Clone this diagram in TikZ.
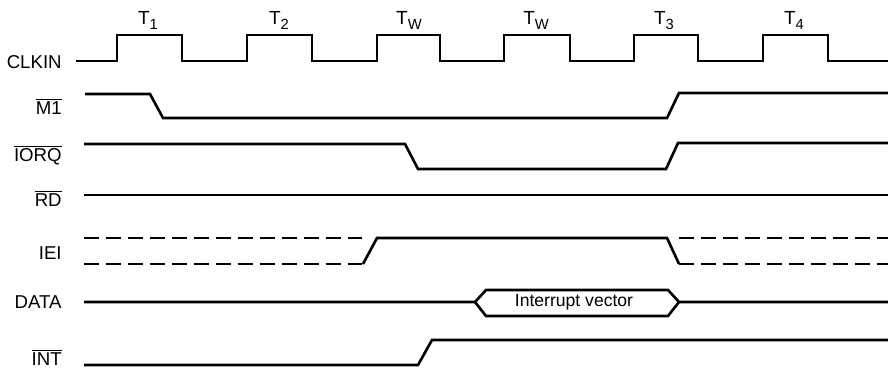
\documentclass[tikz,border=0pt]{standalone}
\usepackage{fontspec}
\setmainfont{Liberation Sans}
\begin{document}
\begin{tikzpicture}[x=0.02cm,y=-0.02cm,
  wave/.style={line width=1.5pt, line join=miter},
  dashwave/.style={wave, dash pattern=on 8.5pt off 4pt},
  lbl/.style={anchor=east, inner sep=0pt, font=\fontsize{10.6}{12}\selectfont},
  tlbl/.style={inner sep=0pt, anchor=base, font=\fontsize{10.8}{12}\selectfont},
  buslbl/.style={inner sep=0pt, font=\fontsize{10}{12}\selectfont}]
\useasboundingbox (0,0) rectangle (888,371);
\newcommand{\tsub}[1]{\raisebox{-2.5pt}{\fontsize{8.4}{9}\selectfont #1}}
% period labels
\node[tlbl] (t1) at (148,25) {T\tsub{1}};
\node[tlbl] (t2) at (279,25) {T\tsub{2}};
\node[tlbl] (tw1) at (409,25) {T\tsub{W}};
\node[tlbl] (tw2) at (536,25) {T\tsub{W}};
\node[tlbl] (t3) at (664,25) {T\tsub{3}};
\node[tlbl] (t4) at (794,25) {T\tsub{4}};
% signal labels
\node[lbl] (clk) at (62,62) {CLKIN};
\node[lbl] (m1) at (62,106) {$\overline{\mbox{M1}}$};
\node[lbl] (iorq) at (62,155) {$\overline{\mbox{IORQ}}$};
\node[lbl] (rd) at (62,198) {$\overline{\mbox{RD}}$};
\node[lbl] (iei) at (62,253) {IEI};
\node[lbl] (data) at (62,302) {DATA};
\node[lbl] (int) at (62,357) {$\overline{\mbox{INT}}$};
% CLKIN
\draw[wave] (76,61) -- (117,61) -- (117,35) -- (182,35) -- (182,61) -- (247,61) -- (247,35) -- (312,35) -- (312,61) -- (377,61) -- (377,35) -- (440,35) -- (440,61) -- (504,61) -- (504,35) -- (570,35) -- (570,61) -- (634,61) -- (634,35) -- (698,35) -- (698,61) -- (763,61) -- (763,35) -- (828,35) -- (828,61) -- (888,61);
% M1
\draw[wave] (85,94) -- (150,94) -- (163,118) -- (667,118) -- (679,93) -- (888,93);
% IORQ
\draw[wave] (84,144) -- (405,144) -- (418,169) -- (666,169) -- (678,143) -- (888,143);
% RD
\draw[wave] (84,195) -- (888,195);
% IEI
\draw[dashwave] (84,238) -- (368,238);
\draw[dashwave] (84,264) -- (363,264);
\draw[wave] (363,264) -- (377,238) -- (667,238) -- (679,264);
\draw[dashwave] (679,264) -- (888,264);
\draw[dashwave] (679,238) -- (888,238);
% DATA
\draw[wave] (84,302) -- (475,302) -- (486,290) -- (668,290) -- (679,302) -- (888,302);
\draw[wave] (475,302) -- (486,316) -- (668,316) -- (679,302);
\node[buslbl] (iv) at (574,302) {Interrupt vector};
% INT
\draw[wave] (84,365) -- (418,365) -- (432,340) -- (888,340);
\end{tikzpicture}
\end{document}
